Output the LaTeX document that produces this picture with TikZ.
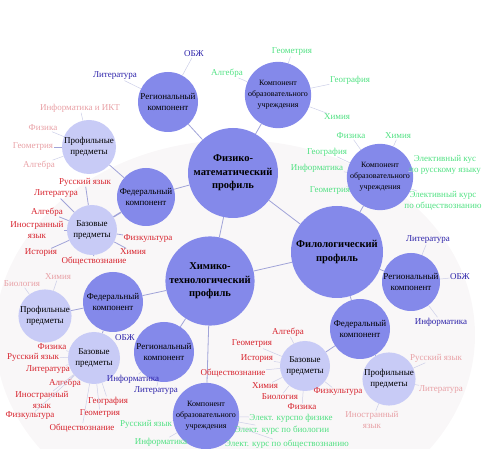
\documentclass[tikz,border=0pt]{standalone}
\usepackage{fontspec}
\setmainfont{Liberation Serif}
\definecolor{mainc}{RGB}{132,137,234}
\definecolor{lightcc}{RGB}{200,203,246}
\definecolor{cred}{RGB}{215,35,45}
\definecolor{cpink}{RGB}{232,160,165}
\definecolor{cgreen}{RGB}{80,225,130}
\definecolor{cblue}{RGB}{45,35,170}
\definecolor{linkc}{RGB}{160,163,216}
\definecolor{thinc}{RGB}{205,207,232}
\definecolor{bgc}{RGB}{249,247,248}
\begin{document}
\begin{tikzpicture}[x=1pt,y=-1pt,
  circ/.style={circle, fill=mainc, draw=none, inner sep=0pt, align=center, font=\fontsize{9}{11}\selectfont},
  prof/.style={circ, font=\bfseries\fontsize{10.5}{13.5}\selectfont},
  lcirc/.style={circ, fill=lightcc},
  kou/.style={circ, font=\fontsize{8}{11}\selectfont},
  lab/.style={inner sep=0.5pt, align=center, font=\fontsize{9}{10.5}\selectfont},
  labred/.style={lab, text=cred},
  labpink/.style={lab, text=cpink},
  labgreen/.style={lab, text=cgreen},
  labblue/.style={lab, text=cblue},
  link/.style={draw=linkc, line width=0.8pt},
  tlink/.style={draw=thinc, line width=0.5pt}]
\useasboundingbox (0,0) rectangle (488,449);
\fill[bgc] (235,335) ellipse [x radius=240, y radius=195];

% ---------- circles ----------
\node[prof, minimum size=90] (FM) at (233,173) {Физико-\\математический\\профиль};
\node[kou, minimum size=60] (KOU1) at (278,95) {Компонент\\образовательного\\учреждения};
\node[circ, minimum size=60] (REG1) at (168,102) {Региональный\\компонент};
\node[lcirc, minimum size=54] (PRO1) at (89,147) {Профильные\\предметы};
\node[circ, minimum size=58] (FED1) at (146,197) {Федеральный\\компонент};
\node[lcirc, minimum size=50] (BAZ1) at (92,230) {Базовые\\предметы};

\node[prof, minimum size=92] (FL) at (337,252) {Филологический\\профиль};
\node[kou, minimum size=60] (KOU2) at (380,177) {Компонент\\образовательного\\учреждения};
\node[circ, minimum size=58] (REG2) at (411,282) {Региональный\\компонент};
\node[circ, minimum size=60] (FED2) at (360,329) {Федеральный\\компонент};
\node[lcirc, minimum size=50] (PRO2) at (389,379) {Профильные\\предметы};
\node[lcirc, minimum size=50] (BAZ2) at (305,366) {Базовые\\предметы};

\node[prof, minimum size=88] (HT) at (210,281) {Химико-\\технологический\\профиль};
\node[circ, minimum size=60] (FED3) at (113,302) {Федеральный\\компонент};
\node[lcirc, minimum size=52] (PRO3) at (45,316) {Профильные\\предметы};
\node[lcirc, minimum size=52] (BAZ3) at (94,358) {Базовые\\предметы};
\node[circ, minimum size=60] (REG3) at (164,352) {Региональный\\компонент};
\node[kou, minimum size=60] (KOU3) at (206,416) {Компонент\\образовательного\\учреждения};

% ---------- main connectors ----------
\draw[link] (FM) -- (HT);
\draw[link] (FM) -- (FL);
\draw[link] (HT) -- (FL);
\draw[link] (FM) -- (REG1);
\draw[link] (FM) -- (KOU1);
\draw[link] (FM) -- (FED1);
\draw[link] (FED1) -- (PRO1);
\draw[link, line width=1.4pt] (FED1) -- (BAZ1);
\draw[link] (FL) -- (KOU2);
\draw[link] (FL) -- (REG2);
\draw[link] (FL) -- (FED2);
\draw[link] (FED2) -- (BAZ2);
\draw[link] (FED2) -- (PRO2);
\draw[link] (HT) -- (FED3);
\draw[link] (HT) -- (REG3);
\draw[link] (HT) -- (KOU3);
\draw[link] (FED3) -- (PRO3);
\draw[link] (FED3) -- (BAZ3);

% ---------- labels: physics-math ----------
\node[labblue] (r1a) at (115,76) {Литература};
\node[labblue] (r1b) at (194,54) {ОБЖ};
\foreach \n in {r1a,r1b} \draw[tlink] (REG1) -- (\n);

\node[labgreen] (k1a) at (227,73) {Алгебра};
\node[labgreen] (k1b) at (292,52) {Геометрия};
\node[labgreen] (k1c) at (350,80) {География};
\node[labgreen] (k1d) at (337,117) {Химия};
\foreach \n in {k1a,k1b,k1c,k1d} \draw[tlink] (KOU1) -- (\n);

\node[labpink] (p1a) at (80,108) {Информатика и ИКТ};
\node[labpink] (p1b) at (43,128) {Физика};
\node[labpink] (p1c) at (33,147) {Геометрия};
\node[labpink] (p1d) at (39,165) {Алгебра};
\foreach \n in {p1a,p1b,p1d} \draw[tlink] (PRO1) -- (\n);
\draw[link] (PRO1) -- (p1c);

\node[labred] (b1a) at (85,182) {Русский язык};
\node[labred] (b1b) at (56,194) {Литература};
\node[labred] (b1c) at (47,212) {Алгебра};
\node[labred] (b1d) at (37,230) {Иностранный\\язык};
\node[labred] (b1e) at (41,253) {История};
\node[labred] (b1f) at (94,261) {Обществознание};
\node[labred] (b1g) at (133,252) {Химия};
\node[labred] (b1h) at (148,239) {Физкультура};
\foreach \n in {b1a,b1b,b1c,b1d,b1e,b1f,b1g,b1h} \draw[link] (BAZ1) -- (\n);

% ---------- labels: philology ----------
\node[labgreen] (k2a) at (351,136) {Физика};
\node[labgreen] (k2b) at (398,136) {Химия};
\node[labgreen] (k2c) at (327,152) {География};
\node[labgreen] (k2d) at (317,168) {Информатика};
\node[labgreen] (k2e) at (330,191) {Геометрия};
\node[labgreen] (k2f) at (445,165) {Элективный кус\\по русскому языку};
\node[labgreen] (k2g) at (443,201) {Элективный курс\\по обществознанию};
\foreach \n in {k2a,k2b,k2c,k2d,k2e,k2f,k2g} \draw[tlink] (KOU2) -- (\n);

\node[labblue] (r2a) at (428,240) {Литература};
\node[labblue] (r2b) at (460,277) {ОБЖ};
\node[labblue] (r2c) at (441,322) {Информатика};
\foreach \n in {r2a,r2b,r2c} \draw[tlink] (REG2) -- (\n);

\node[labpink] (p2a) at (436,358) {Русский язык};
\node[labpink] (p2b) at (441,390) {Литература};
\node[labpink] (p2c) at (372,420) {Иностранный\\язык};
\foreach \n in {p2a,p2b,p2c} \draw[tlink] (PRO2) -- (\n);

\node[labred] (b2a) at (288,332) {Алгебра};
\node[labred] (b2b) at (252,344) {Геометрия};
\node[labred] (b2c) at (257,359) {История};
\node[labred] (b2d) at (233,373) {Обществознание};
\node[labred] (b2e) at (265,386) {Химия};
\node[labred] (b2f) at (280,397) {Биология};
\node[labred] (b2g) at (302,407) {Физика};
\node[labred] (b2h) at (338,392) {Физкультура};
\foreach \n in {b2a,b2b,b2c,b2d,b2e,b2f,b2g,b2h} \draw[tlink] (BAZ2) -- (\n);

% ---------- labels: chemistry-technology ----------
\node[labpink] (p3a) at (58,277) {Химия};
\node[labpink] (p3b) at (22,284) {Биология};
\foreach \n in {p3a,p3b} \draw[tlink] (PRO3) -- (\n);

\node[labred] (b3a) at (52,347) {Физика};
\node[labred] (b3b) at (33,357) {Русский язык};
\node[labred] (b3c) at (48,370) {Литература};
\node[labred] (b3d) at (65,383) {Алгебра};
\node[labred] (b3e) at (42,400) {Иностранный\\язык};
\node[labred] (b3f) at (30,416) {Физкультура};
\node[labred] (b3g) at (82,428) {Обществознание};
\node[labred] (b3h) at (108,401) {География};
\node[labred] (b3i) at (100,414) {Геометрия};
\foreach \n in {b3a,b3b,b3c,b3d,b3e,b3f,b3g,b3h,b3i} \draw[tlink] (BAZ3) -- (\n);

\node[labblue] (r3a) at (125,338) {ОБЖ};
\node[labblue] (r3b) at (133,379) {Информатика};
\node[labblue] (r3c) at (156,391) {Литература};
\foreach \n in {r3a,r3b,r3c} \draw[tlink] (REG3) -- (\n);

\node[labgreen] (k3a) at (146,424) {Русский язык};
\node[labgreen] (k3b) at (161,442) {Информатика};
\node[labgreen] (k3c) at (291,418) {Элект. курспо физике};
\node[labgreen] (k3d) at (282,430) {Элект. курс по биологии};
\node[labgreen] (k3e) at (287,444) {Элект. курс по обществознанию};
\foreach \n in {k3a,k3b,k3c,k3d,k3e} \draw[tlink] (KOU3) -- (\n);
\end{tikzpicture}
\end{document}
